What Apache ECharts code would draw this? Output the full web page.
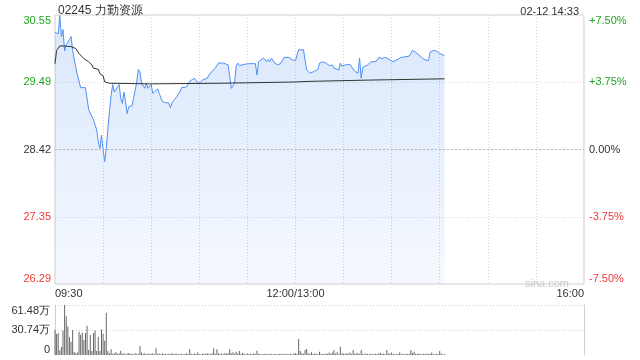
<!DOCTYPE html>
<html>
<head>
<meta charset="utf-8">
<script src="https://cdn.jsdelivr.net/npm/echarts@6/dist/echarts.min.js"></script>
<style>html,body{margin:0;padding:0;background:#fff;}#c{width:640px;height:360px;}</style>
</head>
<body>
<div id="c"></div>
<script>
const stockTitle = '02245 力勤资源';
const stamp = '02-12 14:33';
const prevClose = 28.42;
const xLabels = ['09:30', '12:00/13:00', '16:00'];
const volLabels = ['0', '30.74万', '61.48万'];

const priceTimes = ['09:30','09:31','09:32','09:33','09:34','09:35','09:36','09:37','09:39','09:40','09:41','09:42','09:43','09:44','09:46','09:47','09:49','09:50','09:51','09:52','09:54','09:55','09:56','09:57','09:58','09:59','10:00','10:01','10:02','10:03','10:04','10:05','10:06','10:07','10:08','10:09','10:10','10:11','10:12','10:13','10:14','10:15','10:16','10:18','10:19','10:20','10:21','10:22','10:23','10:24','10:25','10:26','10:27','10:28','10:30','10:31','10:32','10:34','10:35','10:36','10:37','10:39','10:41','10:42','10:43','10:44','10:46','10:48','10:49','10:52','10:54','10:55','10:57','10:58','11:00','11:02','11:05','11:06','11:08','11:10','11:12','11:13','11:15','11:18','11:19','11:20','11:21','11:22','11:23','11:24','11:25','11:26','11:28','11:31','11:32','11:35','11:36','11:37','11:38','11:40','11:42','11:43','11:44','11:45','11:47','11:49','11:51','11:53','11:56','11:58','12:00','13:01','13:02','13:05','13:06','13:07','13:09','13:10','13:12','13:14','13:15','13:16','13:17','13:19','13:21','13:23','13:24','13:25','13:27','13:28','13:29','13:31','13:34','13:35','13:37','13:39','13:40','13:41','13:42','13:43','13:45','13:47','13:49','13:51','13:52','13:54','13:56','13:57','13:59','14:01','14:02','14:04','14:06','14:09','14:11','14:13','14:15','14:17','14:19','14:21','14:23','14:24','14:26','14:28','14:30','14:33'];
const prices = [30.28,30.27,30.25,30.54,30.21,30.32,29.98,30.08,30.16,30.21,30.00,29.84,29.81,29.60,29.40,29.38,29.40,29.23,29.05,29.02,28.89,28.89,28.73,28.54,28.44,28.65,28.42,28.23,28.44,28.75,29.02,29.28,29.45,29.33,29.32,29.41,29.45,29.23,29.15,29.33,29.18,28.99,29.10,29.11,29.23,29.36,29.49,29.69,29.65,29.47,29.49,29.39,29.47,29.39,29.45,29.31,29.33,29.38,29.31,29.34,29.18,29.16,29.16,29.08,29.16,29.13,29.26,29.34,29.40,29.41,29.50,29.52,29.55,29.51,29.47,29.52,29.55,29.60,29.66,29.71,29.79,29.81,29.79,29.76,29.58,29.39,29.38,29.47,29.74,29.79,29.75,29.76,29.77,29.78,29.79,29.78,29.60,29.81,29.83,29.87,29.81,29.85,29.81,29.87,29.79,29.76,29.79,29.88,29.88,29.84,29.83,29.92,30.00,30.00,29.84,29.68,29.63,29.60,29.66,29.69,29.79,29.77,29.81,29.79,29.75,29.76,29.71,29.74,29.68,29.79,29.74,29.76,29.77,29.73,29.66,29.63,29.87,29.55,29.72,29.74,29.76,29.81,29.81,29.83,29.88,29.86,29.88,29.87,29.84,29.81,29.81,29.85,29.88,29.89,29.90,29.99,29.96,29.92,29.87,29.84,29.83,29.96,29.99,29.98,29.94,29.91];

const avgTimes = ['09:30','09:31','09:33','09:36','09:40','09:43','09:45','09:48','09:51','09:53','09:54','09:57','09:58','10:00','10:01','10:02','10:04','10:29','11:13','12:00','13:09','13:46','14:33'];
const avgPrices = [29.78,29.99,30.06,30.06,30.05,30.02,29.94,29.86,29.81,29.76,29.71,29.69,29.62,29.59,29.49,29.48,29.47,29.46,29.47,29.49,29.50,29.52,29.54];

// volume per minute from 09:30, in 万
const volumes = [
30.7,25.8,27,5.7,9.8,30,61.48,47.5,35,22,
16.4,30.7,4,2,3,28.7,25,27.5,18.5,27,
36,6,25,5,27,30,5,22.5,5,31.5,
26,17.6,52,5,2,7,1.5,2,3.3,1.2,
2,5.3,1.5,2.2,1,1.8,2.5,1.2,1.6,1,
2,1.4,1.2,11,3,1.5,2,1,1.8,1.2,
1.5,2.2,1,8.2,1.4,1.8,1,2,1.2,1.5,
1,1.6,1.2,2,1,1.4,1.8,1,1.2,1.5,
1,1.3,2,1.2,7,1.5,1,1.8,1.2,3,
1.2,1,1.5,1.8,1.2,2,1.4,1,2.2,8.2,
1.5,7,2,1.2,1.8,1,2.5,1.4,2,7,
2,3.5,1.5,4,1.8,5,1.2,2.5,1.5,1,
1.8,1.2,1.5,1,2,1.2,5.3,1.5,1,1.2,
1,1.4,1.2,1,1.5,1.2,1,1.3,1.1,1,
1.2,1.5,1,1.2,1.4,1,1.2,1.5,1,1.8,
2,1.5,19.7,5,2,1.5,6,7.4,2,1.5,
3.5,1.2,1.8,1.5,1,4,1.5,1.2,1,1.8,
1.2,3,1.5,3,6,1.5,3.5,1.2,10,2,
1.5,1.2,2,1.5,3,1.2,6,1.5,1.8,2,
1.2,6,1.5,1,1.8,1.2,1,1.5,1.2,1,
1.4,1.2,1.8,2.5,1.2,1.5,1.2,6,1.8,1.5,
3,1.2,1.5,1,1.2,3,1.4,1.2,1,1.5,
1.2,1.5,6,2.5,4,1.5,1.2,1.8,1.2,1,
1.5,1.2,1.8,1.2,1.5,3,1.2,1,1.5,1.2,
5,1.5,1,1.2];

function toIdx(s) {
  const p = s.split('/')[0].split(':');
  const m = (+p[0]) * 60 + (+p[1]);
  return m <= 720 ? m - 570 : m - 780 + 150;
}
const pct = p => (p / prevClose - 1) * 100;
const xLabelMap = {};
xLabels.forEach(l => { xLabelMap[toIdx(l)] = l; });
const volMax = parseFloat(volLabels[2]);
const volMid = parseFloat(volLabels[1]);

const priceData = priceTimes.map((t, i) => [toIdx(t), pct(prices[i])]);
const avgData = avgTimes.map((t, i) => [toIdx(t), pct(avgPrices[i])]);
const volData = volumes.map((v, i) => [i, v]);

const GREEN = '#1ea51e', RED = '#f03a3a', DARK = '#333';
const FONT = 'Liberation Sans, Arial, sans-serif';

const chart = echarts.init(document.getElementById('c'), null, {renderer: 'canvas'});
chart.setOption({
  animation: false,
  backgroundColor: '#fff',
  textStyle: {fontFamily: FONT},
  title: [
    {text: stockTitle, left: 53, top: 0, textStyle: {fontSize: 12, fontWeight: 'normal', color: DARK, fontFamily: FONT}},
    {text: stamp, right: 56, top: 1, textStyle: {fontSize: 11, fontWeight: 'normal', color: DARK, fontFamily: FONT}},
    {text: 'sina.com', right: 66, top: 273, textStyle: {fontSize: 11, fontWeight: 'normal', color: '#c8c8c8', fontFamily: FONT}}
  ],
  grid: [
    {left: 55, right: 56, top: 15, height: 269, show: true, borderColor: '#cfcfcf', borderWidth: 1, backgroundColor: 'transparent'},
    {left: 55, right: 56, top: 305, height: 50, show: false}
  ],
  xAxis: [
    {type: 'value', gridIndex: 0, min: 0, max: 330, interval: 30,
     axisLine: {show: false}, axisTick: {show: false},
     axisLabel: {show: true, fontSize: 11, color: DARK, margin: 4, fontFamily: FONT,
       formatter: v => xLabelMap[v] || '', alignMinLabel: 'left', alignMaxLabel: 'right', showMinLabel: true, showMaxLabel: true},
     splitLine: {show: true, showMinLine: false, showMaxLine: false, lineStyle: {color: '#d6d6d6', type: [1, 2], width: 1}}},
    {type: 'value', gridIndex: 1, min: 0, max: 330, interval: 30,
     axisLine: {show: false}, axisTick: {show: false}, axisLabel: {show: false}, splitLine: {show: false}}
  ],
  yAxis: [
    {type: 'value', gridIndex: 0, min: -7.5, max: 7.5, interval: 3.75, position: 'left',
     axisLine: {show: false}, axisTick: {show: false},
     axisLabel: {fontSize: 11, margin: 4, fontFamily: FONT,
       verticalAlignMaxLabel: 'top', verticalAlignMinLabel: 'bottom',
       color: v => (v > 0.001 ? GREEN : (v < -0.001 ? RED : DARK)),
       formatter: v => (prevClose * (1 + v / 100)).toFixed(2)},
     splitLine: {show: true, showMinLine: false, showMaxLine: false, lineStyle: {color: '#d6d6d6', type: [1, 2], width: 1}}},
    {type: 'value', gridIndex: 0, min: -7.5, max: 7.5, interval: 3.75, position: 'right',
     axisLine: {show: false}, axisTick: {show: false},
     axisLabel: {fontSize: 11, margin: 5, fontFamily: FONT,
       verticalAlignMaxLabel: 'top', verticalAlignMinLabel: 'bottom',
       color: v => (v > 0.001 ? GREEN : (v < -0.001 ? RED : DARK)),
       formatter: v => (v > 0.001 ? '+' : '') + v.toFixed(2) + '%'},
     splitLine: {show: false}},
    {type: 'value', gridIndex: 1, min: 0, max: volMax, interval: volMid, position: 'left',
     axisLine: {show: true, lineStyle: {color: '#cfcfcf'}}, axisTick: {show: false},
     axisLabel: {fontSize: 11, color: DARK, margin: 5, fontFamily: FONT,
       verticalAlignMaxLabel: 'top', verticalAlignMinLabel: 'bottom',
       formatter: v => (v < 0.001 ? volLabels[0] : (Math.abs(v - volMid) < 0.01 ? volLabels[1] : volLabels[2]))},
     splitLine: {show: true, showMinLine: false, lineStyle: {color: '#cfcfcf', type: [1, 2], width: 1}}},
    {type: 'value', gridIndex: 1, min: 0, max: volMax, interval: volMid, position: 'right',
     axisLine: {show: true, lineStyle: {color: '#cfcfcf'}}, axisTick: {show: false},
     axisLabel: {show: false}, splitLine: {show: false}}
  ],
  series: [
    {type: 'line', xAxisIndex: 0, yAxisIndex: 0, data: priceData, symbol: 'none', silent: true,
     lineStyle: {color: '#4f8ff3', width: 1},
     areaStyle: {origin: 'start', color: new echarts.graphic.LinearGradient(0, 0, 0, 1, [
       {offset: 0, color: 'rgba(79,143,243,0.30)'}, {offset: 1, color: 'rgba(79,143,243,0.08)'}])},
     markLine: {silent: true, symbol: 'none', label: {show: false},
       lineStyle: {color: '#bdbdbd', type: [2, 2], width: 1}, data: [{yAxis: 0}]},
     z: 3},
    {type: 'line', xAxisIndex: 0, yAxisIndex: 0, data: avgData, symbol: 'none', silent: true,
     lineStyle: {color: '#333', width: 1}, z: 4},
    {type: 'bar', xAxisIndex: 1, yAxisIndex: 2, data: volData, barWidth: 1, silent: true,
     itemStyle: {color: '#666'}}
  ]
});
</script>
</body>
</html>
